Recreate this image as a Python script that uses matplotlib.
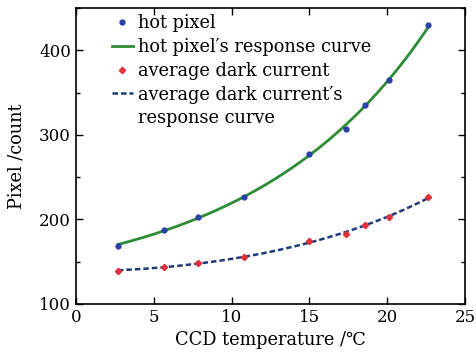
import numpy as np
import matplotlib
matplotlib.use("Agg")
import matplotlib.pyplot as plt
from matplotlib.ticker import MultipleLocator
from matplotlib.lines import Line2D

temps = [2.7, 5.65, 7.85, 10.8, 15.0, 17.35, 18.55, 20.1, 22.65]
hot_pixel = [169, 188, 203, 226, 277, 307, 336, 365, 430]
dark_current = [139, 144, 149, 155, 174, 183, 193, 203, 227]

x_ticks = [0, 5, 10, 15, 20, 25]
y_ticks = [100, 200, 300, 400]

plt.rcParams['font.family'] = ['DejaVu Serif', 'DejaVu Sans', 'Noto Sans CJK SC']

fig = plt.figure(figsize=(4.77, 3.58), dpi=100)
ax = fig.add_axes([0.159, 0.151, 0.816, 0.826])

t = np.array(temps)
xs = np.linspace(t.min(), t.max(), 200)
# fitted response curves (log-quadratic fit of the data)
hp_fit = np.exp(np.polyval(np.polyfit(t, np.log(hot_pixel), 2), xs))
dc_fit = np.exp(np.polyval(np.polyfit(t, np.log(dark_current), 2), xs))

l_hp, = ax.plot(xs, hp_fit, color='#2e8b36', lw=2.0, zorder=2)
l_dc, = ax.plot(xs, dc_fit, color='#1f3a78', lw=1.8, ls=(0, (2.2, 1.2)), zorder=2)
m_hp, = ax.plot(temps, hot_pixel, 'o', color='#2b3fa8', ms=3.5, zorder=3)
m_dc, = ax.plot(temps, dark_current, 'D', color='#e0303a', ms=3.2, zorder=3)
blank = Line2D([], [], alpha=0)

ax.legend([m_hp, l_hp, m_dc, l_dc, blank],
          ['hot pixel', "hot pixel\u2032s response curve", 'average dark current',
           "average dark current\u2032s", 'response curve'],
          loc='upper left', bbox_to_anchor=(0.065, 1.015), frameon=False,
          fontsize=12.8, handlelength=1.2, handletextpad=0.25, labelspacing=0.32,
          borderaxespad=0.2)

ax.set_xlim(0, 25)
ax.set_ylim(100, 450)
ax.set_xticks(x_ticks)
ax.set_yticks(y_ticks)
ax.yaxis.set_minor_locator(MultipleLocator(50))
ax.tick_params(which='both', direction='in', top=True, right=True, labelsize=12)
ax.tick_params(which='major', length=5, width=1)
ax.tick_params(which='minor', length=3, width=1)
for s in ax.spines.values():
    s.set_linewidth(1.2)

ax.set_xlabel("CCD temperature /\u2103", fontsize=12.8, labelpad=4)
ax.set_ylabel("Pixel /count", fontsize=12.8, labelpad=10)

fig.savefig("out.png", dpi=100)
